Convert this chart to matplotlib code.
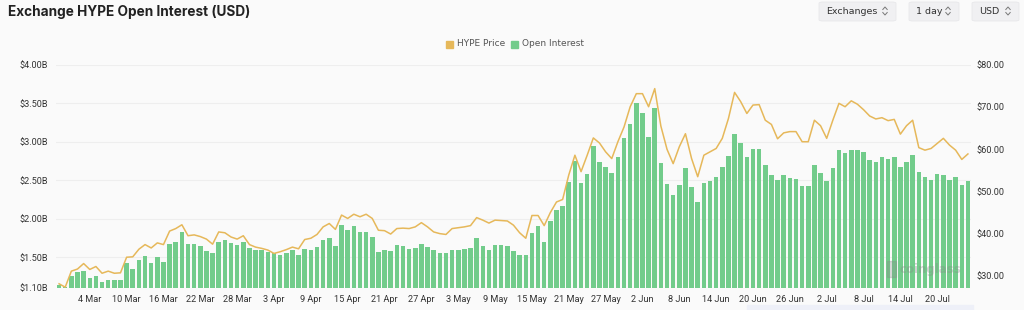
import matplotlib
matplotlib.use("Agg")
import matplotlib.pyplot as plt
import pandas as pd
from matplotlib.patches import FancyBboxPatch, Rectangle
from matplotlib.lines import Line2D

dates = pd.date_range("2025-02-27", "2025-07-25", freq="D")
labels = [f"{d.day} {d.strftime('%b')}" for d in dates]

open_interest = [
    1.14, 1.11, 1.26, 1.31, 1.32, 1.23, 1.26, 1.18, 1.20, 1.20,
    1.20, 1.43, 1.35, 1.47, 1.51, 1.42, 1.50, 1.44, 1.67, 1.70,
    1.83, 1.67, 1.67, 1.64, 1.58, 1.56, 1.70, 1.72, 1.68, 1.66,
    1.70, 1.62, 1.59, 1.60, 1.57, 1.55, 1.53, 1.56, 1.59, 1.53,
    1.61, 1.60, 1.63, 1.73, 1.75, 1.64, 1.92, 1.85, 1.90, 1.83,
    1.83, 1.76, 1.57, 1.59, 1.58, 1.66, 1.64, 1.61, 1.62, 1.67,
    1.63, 1.59, 1.56, 1.56, 1.59, 1.60, 1.61, 1.62, 1.75, 1.65,
    1.60, 1.66, 1.66, 1.64, 1.58, 1.53, 1.53, 1.82, 1.90, 1.70,
    1.97, 2.12, 2.17, 2.48, 2.75, 2.47, 2.58, 2.95, 2.74, 2.67,
    2.60, 2.80, 3.05, 3.23, 3.50, 3.37, 3.07, 3.44, 2.73, 2.45,
    2.31, 2.44, 2.66, 2.41, 2.22, 2.47, 2.49, 2.54, 2.68, 2.82,
    3.10, 2.99, 2.80, 2.91, 2.91, 2.70, 2.57, 2.50, 2.57, 2.53,
    2.52, 2.42, 2.43, 2.70, 2.60, 2.49, 2.66, 2.90, 2.85, 2.89,
    2.89, 2.87, 2.77, 2.74, 2.80, 2.78, 2.81, 2.67, 2.74, 2.83,
    2.61, 2.55, 2.51, 2.58, 2.57, 2.51, 2.54, 2.44, 2.49,
]

hype_price = [
    28.1, 27.3, 31.1, 31.6, 32.9, 31.5, 32.2, 30.6, 31.1, 30.6,
    30.7, 34.4, 34.5, 36.3, 37.4, 36.6, 37.8, 37.4, 40.6, 41.2,
    42.1, 39.5, 39.7, 39.3, 38.7, 37.5, 40.4, 40.2, 39.2, 38.7,
    39.5, 37.4, 36.8, 36.5, 36.1, 35.3, 35.7, 36.2, 36.8, 36.4,
    38.6, 38.9, 39.8, 41.6, 42.4, 41.0, 44.4, 43.6, 44.6, 44.0,
    44.6, 43.6, 40.8, 40.7, 39.9, 41.2, 41.3, 41.2, 41.6, 42.6,
    41.6, 40.4, 40.0, 39.8, 41.2, 41.4, 41.6, 41.9, 43.8, 43.2,
    42.5, 43.2, 43.1, 43.0, 42.0, 40.2, 38.9, 44.3, 44.3, 41.9,
    45.0, 47.5, 48.1, 53.9, 58.6, 54.7, 58.6, 62.7, 61.5, 59.4,
    57.8, 61.8, 65.3, 70.1, 73.2, 73.2, 70.1, 74.4, 65.5, 60.0,
    56.6, 60.6, 63.7, 57.8, 53.5, 58.6, 59.4, 60.2, 62.6, 67.3,
    73.5, 71.3, 68.5, 70.5, 70.6, 66.9, 65.9, 62.5, 63.9, 64.2,
    64.2, 61.8, 61.8, 66.9, 65.6, 62.6, 66.9, 70.9, 70.1, 71.5,
    70.7, 69.4, 67.9, 67.2, 67.5, 66.8, 67.1, 63.6, 65.6, 66.9,
    60.4, 59.8, 60.2, 61.4, 62.6, 61.0, 59.8, 57.6, 58.9,
]

left_ticks = [1.1, 1.5, 2.0, 2.5, 3.0, 3.5, 4.0]
right_ticks = [30, 40, 50, 60, 70, 80]

BG = "#fafafa"
GREEN = "#72cc8b"
GOLD = "#e6b85a"
TXT = "#333333"
TICKFONT = "Roboto"

fig = plt.figure(figsize=(10.24, 3.10), dpi=100, facecolor=BG)
W, H = 1024, 310

ax = fig.add_axes([56 / W, (H - 288) / H, 915 / W, 223 / H])
ax.set_facecolor(BG)
x = list(range(len(open_interest)))
ax.bar(x, [v - 1.1 for v in open_interest], bottom=1.1, width=0.74,
       color=GREEN, zorder=2)
ax.set_xlim(-0.5, len(x) - 0.5)
ax.set_ylim(1.1, 4.0)
ax.set_yticks(left_ticks)
ax.set_yticklabels([f"${v:.2f}B" for v in left_ticks], family=TICKFONT)
for v in left_ticks[1:]:
    ax.axhline(v, color="#eeeeee", lw=0.8, zorder=0)
tick_idx = list(range(5, len(x), 6))
ax.set_xticks(tick_idx)
ax.set_xticklabels([labels[i] for i in tick_idx], family=TICKFONT)
ax.tick_params(axis="both", length=0, labelsize=6.6, colors=TXT)
ax.tick_params(axis="y", pad=6)
ax.tick_params(axis="x", pad=5)
for s in ax.spines.values():
    s.set_visible(False)

ax2 = ax.twinx()
ax2.plot(x, hype_price, color=GOLD, lw=1.1, zorder=3,
         solid_joinstyle="round")
ax2.set_ylim(27.1, 80)
ax2.set_yticks(right_ticks)
ax2.set_yticklabels([f"${v:.2f}" for v in right_ticks], family=TICKFONT)
ax2.tick_params(axis="y", length=0, labelsize=6.6, colors=TXT, pad=4)
for s in ax2.spines.values():
    s.set_visible(False)

# Title
fig.text(8 / W, 1 - 12 / H, "Exchange HYPE Open Interest (USD)",
         fontsize=9.8, fontweight="bold", family="Inter", color="#222222",
         va="center", ha="left")

# Legend
ly = 1 - 44 / H
fig.patches.append(Rectangle((446 / W, ly - 3.5 / H), 7 / W, 7 / H,
                             transform=fig.transFigure, color=GOLD))
fig.text(457 / W, ly, "HYPE Price", fontsize=6.5, color="#555555",
         va="center", ha="left")
fig.patches.append(Rectangle((511 / W, ly - 3.5 / H), 7 / W, 7 / H,
                             transform=fig.transFigure, color=GREEN))
fig.text(522 / W, ly, "Open Interest", fontsize=6.5, color="#555555",
         va="center", ha="left")

# Buttons
buttons = [("Exchanges", 819, 896), ("1 day", 909, 959), ("USD", 972, 1019)]
for name, x0, x1 in buttons:
    fig.patches.append(FancyBboxPatch((x0 / W, 1 - 21 / H), (x1 - x0) / W, 19 / H,
                                      boxstyle="round,pad=0,rounding_size=0.004",
                                      transform=fig.transFigure,
                                      facecolor="#f0f0f2", edgecolor="#e8e8ea", lw=0.6))
    fig.text((x0 + 7) / W, 1 - 11 / H, name, fontsize=6.8, color="#333333",
             va="center", ha="left")
    cx = x1 - 11
    for dy in (-1, 1):
        yb = 11 + dy * 1.5
        yt = 11 + dy * 4
        fig.lines.append(Line2D([(cx - 2.2) / W, cx / W, (cx + 2.2) / W],
                                [1 - yb / H, 1 - yt / H, 1 - yb / H],
                                transform=fig.transFigure, color="#777777", lw=0.7))

# Watermark
fig.text(900 / W, 1 - 269 / H, "coinglass", fontsize=8.5, color="#888888",
         alpha=0.35, va="center", ha="left", fontweight="bold", zorder=10)
fig.patches.append(Rectangle((887 / W, 1 - 277 / H), 9 / W, 16 / H,
                             transform=fig.transFigure, color="#888888",
                             alpha=0.3, zorder=10))

# Scroll strip
fig.patches.append(Rectangle((747 / W, 0), (973 - 747) / W, 5 / H,
                             transform=fig.transFigure, color="#eef0f8"))

fig.savefig("out.png", dpi=100, facecolor=BG)
